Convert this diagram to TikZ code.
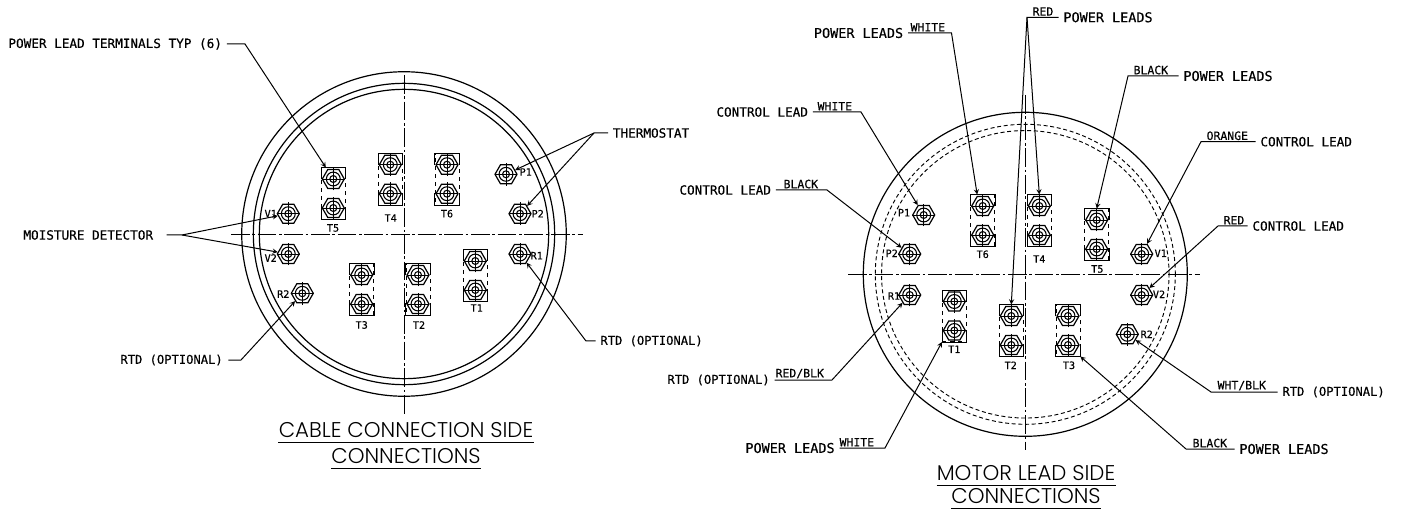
\documentclass[tikz,border=0pt]{standalone}
\usepackage{fontspec}
\newfontfamily\cadfont[FakeBold=0.4]{DejaVu Sans Mono}
\newfontfamily\titlefont{Poppins Light}
\usepackage{tikz}
\usetikzlibrary{calc}
\usetikzlibrary{shapes.geometric,arrows}
\tikzstyle{cad} = [font=\cadfont\fontsize{9.5}{10}\selectfont,inner sep=2pt,anchor=west]
\tikzstyle{cadwide} = [cad,font=\cadfont\fontsize{10.1}{11}\selectfont]
\tikzstyle{cadrtd} = [cad,font=\cadfont\fontsize{9.1}{10}\selectfont]
\tikzstyle{wire} = [font=\cadfont\fontsize{8.6}{9}\selectfont,inner sep=1pt,anchor=south west]
\tikzstyle{tag} = [font=\cadfont\fontsize{7.6}{8}\selectfont,inner sep=0pt]
\tikzstyle{heading} = [font=\titlefont\fontsize{16}{17}\selectfont,inner xsep=0pt,inner ysep=0pt,text depth=0pt,text height=11.5pt]
\tikzstyle{stud} = [regular polygon,regular polygon sides=6,draw,inner sep=0pt,minimum size=16.5pt,line width=0.9pt]
\tikzstyle{termbox} = [rectangle,draw,dashed,inner sep=0pt,minimum width=18pt,minimum height=38.5pt,line width=0.5pt]
\tikzstyle{leader} = [line width=0.75pt,->,shorten <=1.5pt]
\tikzstyle{centre} = [line width=0.65pt,dash pattern=on 14pt off 2pt on 2pt off 2pt]
% one stud, with its rings and cross
\newcommand{\studmark}[3]{
   \node[stud] (#1) at (#2,#3) {};
   \draw[line width=0.8pt] (#1.center) circle[radius=5.2pt] (#1.center) circle[radius=2.6pt];
   \draw[line width=0.6pt] ([xshift=-8.6pt]#1.center) -- ([xshift=8.6pt]#1.center);
   \draw[line width=0.6pt] ([yshift=-8.6pt]#1.center) -- ([yshift=8.6pt]#1.center);
}
% two studs in a box, solid at the corners
\newcommand{\termpair}[3]{
   \node[termbox] (#1) at (#2,#3+14.5) {};
   \draw[line width=0.6pt] ([yshift=-9pt]#1.north west) -- (#1.north west) -- (#1.north east) -- ([yshift=-9pt]#1.north east);
   \draw[line width=0.6pt] ([yshift=9pt]#1.south west) -- (#1.south west) -- (#1.south east) -- ([yshift=9pt]#1.south east);
   \studmark{#1a}{#2}{#3}
   \studmark{#1b}{#2}{#3+29}
}

\begin{document}
\begin{tikzpicture}[>=stealth,x=0.75pt,y=-0.75pt]
   \useasboundingbox (0,0) rectangle (1403,513);

   % cable connection side
   \coordinate (lc) at (404,234);
   \draw[line width=0.9pt] (lc) circle[radius=121.7pt] (lc) circle[radius=113pt] (lc) circle[radius=108.5pt];
   \draw[centre] (231,234) -- (583,234);
   \draw[centre] (404,75) -- (404,414);

   \foreach \nm/\x/\y in {lT5/333.3/179,lT4/390.3/164.7,lT6/447/164.7,lT3/361.7/275,lT2/418/275,lT1/475.3/261}
      \termpair{\nm}{\x}{\y};
   \foreach \nm/\x/\y in {lP1/506/174.3,lP2/520/213.7,lR1/520/254,lR2/302.3/293.3,lV1/288.3/213.7,lV2/288.3/254}
      \studmark{\nm}{\x}{\y};
   \foreach \nm/\x/\y/\txt in {ltT5/333/228/T5,ltT4/390.7/218/T4,ltT6/447/213.7/T6,ltT3/361.7/325/T3,ltT2/419/325/T2,ltT1/476.7/308/T1,ltP1/525.7/172/P1,ltP2/537.7/213.7/P2,ltR1/536.7/255.7/R1,ltR2/283.3/294/R2,ltV1/270.7/213.7/V1,ltV2/270.7/258/V2}
      \node[tag] (\nm) at (\x,\y) {\txt};

   \node[cad] (power) at (5.5,44) {POWER LEAD TERMINALS TYP (6)};
   \coordinate (kpower) at (245,44);
   \draw[leader] (power.east) -- (kpower) -- (lT5.106);

   \node[cad] (moist) at (20.5,235) {MOISTURE DETECTOR};
   \coordinate (kmoist) at (182,235);
   \draw[leader,shorten <=8pt] (moist.east) -- (kmoist) -- (lV1);
   \draw[leader,shorten <=0pt] (kmoist) -- (lV2);

   \node[cad] (thermo) at (610,133) {THERMOSTAT};
   \coordinate (kthermo) at (594,133);
   \draw[leader] (thermo.west) -- (kthermo) -- (lP1);
   \draw[leader,shorten <=0pt] (kthermo) -- (lP2);

   \node[cadrtd] (rtdb) at (597.5,341) {RTD (OPTIONAL)};
   \coordinate (krtdb) at (586,341);
   \draw[leader] (rtdb.west) -- (krtdb) -- (lR1);

   \node[cadrtd] (rtda) at (117.5,360) {RTD (OPTIONAL)};
   \coordinate (krtda) at (241,360);
   \draw[leader,shorten <=2pt] (rtda.east) -- (krtda) -- (lR2);

   \node[heading] (cable) at (406,430) {CABLE CONNECTION SIDE};
   \node[heading] (cablec) at (406,456) {CONNECTIONS};
   \draw[line width=0.8pt] ($(cable.south west)+(0,-3.5pt)$) -- ($(cable.south east)+(0,-3.5pt)$);
   \draw[line width=0.8pt] ($(cablec.south west)+(0,-3.5pt)$) -- ($(cablec.south east)+(0,-3.5pt)$);

   % motor lead side
   \coordinate (rc) at (1025.3,274.3);
   \draw[line width=0.9pt] (rc) circle[radius=121.5pt];
   \draw[line width=0.7pt,densely dashed] (rc) circle[radius=112.5pt] (rc) circle[radius=107.8pt];
   \draw[centre] (848,274.3) -- (1200,274.3);
   \draw[centre] (1025.3,95) -- (1025.3,450);

   \foreach \nm/\x/\y in {rT6/982.7/206,rT4/1039.3/206,rT5/1096.7/220,rT1/954.3/301.5,rT2/1011.3/316,rT3/1068/316}
      \termpair{\nm}{\x}{\y};
   \foreach \nm/\x/\y in {rP1/923.7/215,rP2/909.7/254,rR1/909.7/295,rR2/1127.3/334.3,rV1/1141.7/254,rV2/1141.7/295}
      \studmark{\nm}{\x}{\y};
   \foreach \nm/\x/\y/\txt in {rtT6/982.7/254.3/T6,rtT4/1039.3/259/T4,rtT5/1097.3/269/T5,rtT1/954.3/349.3/T1,rtT2/1010.7/365.3/T2,rtT3/1069/365.3/T3,rtP1/904/212.7/P1,rtP2/891.7/253.3/P2,rtR1/894/296/R1,rtR2/1146.7/334.3/R2,rtV1/1160.7/253.3/V1,rtV2/1159/294.3/V2}
      \node[tag] (\nm) at (\x,\y) {\txt};

   \node[cadwide] (pwhite) at (811,33) {POWER LEADS};
   \node[wire] (wwhite) at (909,33) {WHITE};
   \coordinate (kwhite) at (951.5,33);
   \draw[leader] (pwhite.east) -- (kwhite) -- (rT6.102);

   \node[cadwide] (pred) at (1060.5,17.3) {POWER LEADS};
   \node[wire] (wred) at (1031,17.3) {RED};
   \coordinate (kred) at (1027,17.3);
   \draw[leader] (pred.west) -- (kred) -- (rT4.north);
   \draw[leader,shorten <=0pt] (kred) -- (rT2.north);

   \node[cadwide] (pblack) at (1180.5,76) {POWER LEADS};
   \node[wire] (wblack) at (1132,76) {BLACK};
   \coordinate (kblack) at (1128,76);
   \draw[leader] (pblack.west) -- (kblack) -- (rT5.north);

   \node[cad] (cwhite) at (713.5,112) {CONTROL LEAD};
   \node[wire] (wcwhite) at (816,112) {WHITE};
   \coordinate (kcwhite) at (861,112);
   \draw[leader] (cwhite.east) -- (kcwhite) -- (rP1);

   \node[cad] (cblack) at (676.5,190) {CONTROL LEAD};
   \node[wire] (wcblack) at (782,190) {BLACK};
   \coordinate (kcblack) at (827,190);
   \draw[leader] (cblack.east) -- (kcblack) -- (rP2);

   \node[cad] (corange) at (1257.5,141.7) {CONTROL LEAD};
   \node[wire] (wcorange) at (1205,141.7) {ORANGE};
   \coordinate (kcorange) at (1201,141.7);
   \draw[leader] (corange.west) -- (kcorange) -- (rV1);

   \node[cad] (cred) at (1249.5,226) {CONTROL LEAD};
   \node[wire] (wcred) at (1222,226) {RED};
   \coordinate (kcred) at (1218,226);
   \draw[leader] (cred.west) -- (kcred) -- (rV2);

   \node[cadrtd] (rred) at (664.5,380) {RTD (OPTIONAL)};
   \node[wire] (wrred) at (774,380) {RED/BLK};
   \coordinate (krred) at (832,380);
   \draw[leader] (rred.east) -- (krred) -- (rR1);

   \node[cadrtd] (rwht) at (1279.5,392) {RTD (OPTIONAL)};
   \node[wire] (wrwht) at (1216,392) {WHT/BLK};
   \coordinate (krwht) at (1211,392);
   \draw[leader] (rwht.west) -- (krwht) -- (rR2);

   \node[cadwide] (pbwhite) at (742.5,448) {POWER LEADS};
   \node[wire] (wbwhite) at (838,448) {WHITE};
   \coordinate (kbwhite) at (885,448);
   \draw[leader] (pbwhite.east) -- (kbwhite) -- (rT1.south west);

   \node[cadwide] (pbblack) at (1236.5,449) {POWER LEADS};
   \node[wire] (wbblack) at (1191,449) {BLACK};
   \coordinate (kbblack) at (1186,449);
   \draw[leader] (pbblack.west) -- (kbblack) -- (rT3.south east);

   \node[heading] (motor) at (1026,472.5) {MOTOR LEAD SIDE};
   \node[heading] (motorc) at (1026,495.5) {CONNECTIONS};
   \draw[line width=0.8pt] ($(motor.south west)+(0,-3.5pt)$) -- ($(motor.south east)+(0,-3.5pt)$);
   \draw[line width=0.8pt] ($(motorc.south west)+(0,-3.5pt)$) -- ($(motorc.south east)+(0,-3.5pt)$);
\end{tikzpicture}
\end{document}
